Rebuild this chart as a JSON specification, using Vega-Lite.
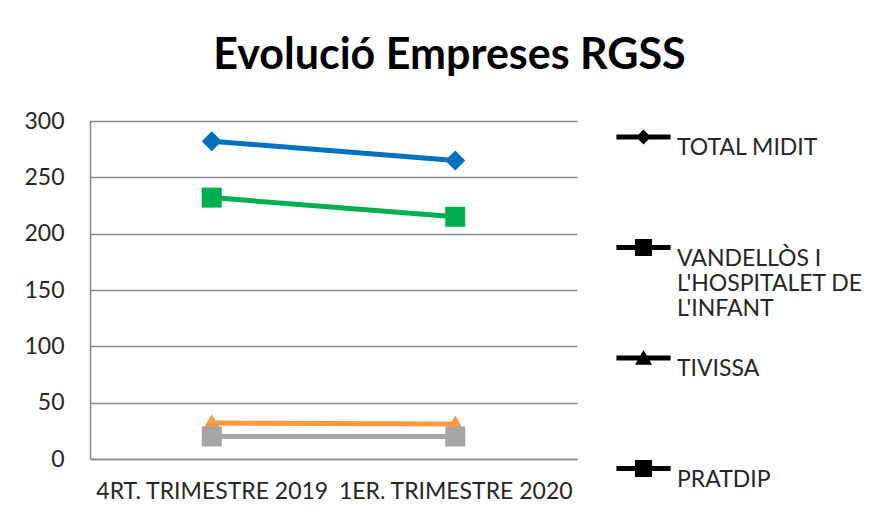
{
  "$schema": "https://vega.github.io/schema/vega-lite/v6.json",
  "width": 487,
  "height": 338,
  "autosize": "none",
  "padding": {"left": 90, "top": 121, "right": 304, "bottom": 58},
  "background": "white",
  "config": {
    "font": "Lato",
    "view": {"stroke": null}
  },
  "title": {
    "text": "Evolució Empreses RGSS",
    "font": "Lato",
    "fontSize": 43,
    "fontWeight": "bold",
    "color": "#000000",
    "anchor": "middle",
    "dx": 116,
    "baseline": "alphabetic",
    "offset": -3
  },
  "data": {
    "values": [
      {"series": "TOTAL MIDIT", "period": "4RT. TRIMESTRE 2019", "value": 282},
      {"series": "TOTAL MIDIT", "period": "1ER. TRIMESTRE 2020", "value": 265},
      {"series": "VANDELLÒS I L'HOSPITALET DE L'INFANT", "period": "4RT. TRIMESTRE 2019", "value": 232},
      {"series": "VANDELLÒS I L'HOSPITALET DE L'INFANT", "period": "1ER. TRIMESTRE 2020", "value": 215},
      {"series": "TIVISSA", "period": "4RT. TRIMESTRE 2019", "value": 32},
      {"series": "TIVISSA", "period": "1ER. TRIMESTRE 2020", "value": 31},
      {"series": "PRATDIP", "period": "4RT. TRIMESTRE 2019", "value": 20},
      {"series": "PRATDIP", "period": "1ER. TRIMESTRE 2020", "value": 20}
    ]
  },
  "resolve": {"scale": {"shape": "independent"}},
  "encoding": {
    "x": {
      "field": "period",
      "type": "nominal",
      "sort": ["4RT. TRIMESTRE 2019", "1ER. TRIMESTRE 2020"],
      "scale": {"type": "point", "padding": 0.5},
      "axis": {
        "title": null,
        "labelAngle": 0,
        "labelFont": "Lato",
        "labelFontSize": 23,
        "labelColor": "#262626",
        "labelPadding": 21,
        "labelBaseline": "top",
        "ticks": false,
        "tickSize": 0,
        "domain": true,
        "domainColor": "#898989",
        "domainWidth": 1.5,
        "grid": false,
        "labelLimit": 400
      }
    },
    "y": {
      "field": "value",
      "type": "quantitative",
      "scale": {"domain": [0, 300], "nice": false},
      "axis": {
        "title": null,
        "values": [0, 50, 100, 150, 200, 250, 300],
        "labelFont": "Lato",
        "labelFontSize": 23,
        "labelColor": "#262626",
        "labelPadding": 26,
        "ticks": false,
        "tickSize": 0,
        "domain": true,
        "domainColor": "#898989",
        "domainWidth": 1.5,
        "grid": true,
        "gridColor": "#898989",
        "gridWidth": 1.5
      }
    },
    "color": {
      "field": "series",
      "type": "nominal",
      "scale": {
        "domain": ["TOTAL MIDIT", "VANDELLÒS I L'HOSPITALET DE L'INFANT", "TIVISSA", "PRATDIP"],
        "range": ["#0070C0", "#00B050", "#FF9A3C", "#A5A5A5"]
      },
      "legend": null
    }
  },
  "layer": [
    {
      "mark": {"type": "line", "strokeWidth": 5, "strokeCap": "round"}
    },
    {
      "mark": {"type": "point", "filled": true, "opacity": 1},
      "encoding": {
        "shape": {
          "field": "series",
          "type": "nominal",
          "scale": {
            "domain": ["TOTAL MIDIT", "VANDELLÒS I L'HOSPITALET DE L'INFANT", "TIVISSA", "PRATDIP"],
            "range": ["diamond", "square", "triangle-up", "square"]
          },
          "legend": null
        },
        "size": {"value": 400}
      }
    },
    {
      "mark": {"type": "point", "filled": true, "opacity": 0},
      "encoding": {
        "shape": {
          "field": "series",
          "type": "nominal",
          "scale": {
            "domain": ["TOTAL MIDIT", "VANDELLÒS I L'HOSPITALET DE L'INFANT", "TIVISSA", "PRATDIP"],
            "range": [
              "M-0.95,-0.09H0.95V0.09H-0.95Z M0,-0.26L0.26,0L0,0.26L-0.26,0Z",
              "M-0.95,-0.09H0.95V0.09H-0.95Z M-0.3,-0.3H0.3V0.3H-0.3Z",
              "M-0.95,-0.09H0.95V0.09H-0.95Z M0,-0.28L0.3,0.24H-0.3Z",
              "M-0.95,-0.09H0.95V0.09H-0.95Z M-0.3,-0.3H0.3V0.3H-0.3Z"
            ]
          },
          "legend": {
            "title": null,
            "orient": "none",
            "legendX": 525,
            "legendY": -12.5,
            "padding": 0,
            "symbolSize": 3249,
            "symbolStrokeWidth": 0,
            "symbolOpacity": 1,
            "labelOffset": 5,
            "labelFont": "Lato",
            "labelFontSize": 23,
            "labelColor": "#262626",
            "labelLimit": 400,
            "labelBaseline": "top",
            "rowPadding": 8.5,
            "labelExpr": "length(datum.label) > 20 ? ['VANDELLÒS I', \"L'HOSPITALET DE\", \"L'INFANT\"] : [datum.label, '', '']",
            "encode": {
              "labels": {
                "update": {
                  "lineHeight": {"value": 33.5},
                  "dy": {"value": -8}
                }
              },
              "symbols": {
                "update": {
                  "fill": {"scale": "color", "field": "value"},
                  "stroke": {"value": "transparent"},
                  "strokeWidth": {"value": 0},
                  "opacity": {"value": 1}
                }
              }
            }
          }
        }
      }
    }
  ]
}
